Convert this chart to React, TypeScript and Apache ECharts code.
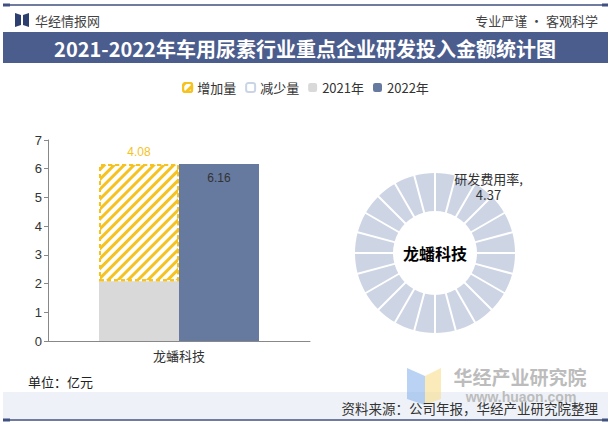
import React, { useEffect, useRef } from "react";
import * as echarts from "echarts";

const categories = ["龙蟠科技"];
const values2021 = [2.08];
const increaseValues = [4.08];
const decreaseValues: (number | string)[] = ["-"];
const values2022 = [6.16];
const yMax = 7;
const yInterval = 1;
const rdRateName = "研发费用率";
const rdRateValues = [4.37];
const legendOrder = ["增加量", "减少量", "2021年", "2022年"];
const ringSegments = 24;

const TITLE = "2021-2022年车用尿素行业重点企业研发投入金额统计图";
const UNIT = "单位：亿元";
const SOURCE = "资料来源：公司年报，华经产业研究院整理";

const FONT = "'Liberation Sans', 'Noto Sans CJK SC', sans-serif";
const CJK = "'Noto Sans CJK SC', sans-serif";
const NAVY = "#3f5081";
const YELLOW = "#f6c21f";

export default function App() {
  const ref = useRef<HTMLDivElement>(null);
  useEffect(() => {
    document.body.style.margin = "0";
    if (!ref.current) return;
    const chart = echarts.init(ref.current, null, { renderer: "svg" });
    const ringCenter = [435, 253];
    const option: any = {
      animation: false,
      backgroundColor: "#ffffff",
      textStyle: { fontFamily: FONT },
      legend: {
        data: legendOrder,
        top: 76,
        left: "center",
        itemWidth: 9,
        itemHeight: 9,
        itemGap: 9,
        textStyle: { fontSize: 13, color: "#333", fontFamily: CJK },
      },
      grid: { left: 48, right: 301, top: 140, bottom: 83 },
      xAxis: {
        type: "category",
        data: categories,
        axisLine: { lineStyle: { color: "#888" } },
        axisTick: { show: false },
        axisLabel: { fontSize: 13, color: "#333", margin: 8, fontFamily: CJK },
      },
      yAxis: {
        type: "value",
        min: 0,
        max: yMax,
        interval: yInterval,
        axisLine: { show: true, lineStyle: { color: "#888" } },
        axisTick: { show: true, length: 4, lineStyle: { color: "#888" } },
        splitLine: { show: false },
        axisLabel: { fontSize: 13, color: "#333", margin: 6 },
      },
      series: [
        {
          name: "2021年",
          type: "bar",
          stack: "a",
          barWidth: 80,
          barGap: "0%",
          data: values2021,
          itemStyle: { color: "#d9d9d9" },
        },
        {
          name: "增加量",
          type: "bar",
          stack: "a",
          barWidth: 80,
          barGap: "0%",
          data: increaseValues,
          itemStyle: {
            color: "#ffffff",
            borderColor: YELLOW,
            borderWidth: 2,
            borderType: [4, 3],
            decal: {
              symbol: "rect",
              symbolSize: 1,
              color: YELLOW,
              dashArrayX: [1, 0],
              dashArrayY: [3, 3.5],
              rotation: -Math.PI / 4,
            },
          },
          label: {
            show: true,
            position: "top",
            distance: 6,
            color: YELLOW,
            fontSize: 12,
          },
        },
        {
          name: "减少量",
          type: "bar",
          stack: "a",
          barWidth: 80,
          barGap: "0%",
          data: decreaseValues,
          itemStyle: { color: "#ffffff", borderColor: "#c9d4e4", borderWidth: 2 },
        },
        {
          name: "2022年",
          type: "bar",
          stack: "b",
          barWidth: 80,
          barGap: "0%",
          data: values2022,
          itemStyle: { color: "#66799f" },
          label: {
            show: true,
            position: "insideTop",
            distance: 8,
            color: "#333",
            fontSize: 12,
          },
        },
        {
          name: "ring",
          type: "pie",
          center: ringCenter,
          radius: [42, 80],
          silent: true,
          startAngle: 90,
          z: 2,
          data: categories.map((c, i) => ({ name: c, value: rdRateValues[i] })),
          itemStyle: { color: "#cdd4e4" },
          label: {
            show: true,
            position: "center",
            formatter: "{b}",
            fontSize: 16,
            fontWeight: "bold",
            color: "#000",
            fontFamily: CJK,
          },
          labelLine: { show: false },
          emphasis: { disabled: true },
        },
        {
          name: "dividers",
          type: "gauge",
          center: ringCenter,
          radius: 81,
          startAngle: 90,
          endAngle: -270,
          splitNumber: ringSegments,
          z: 10,
          min: 0,
          max: ringSegments,
          axisLine: { show: false, lineStyle: { width: 0 } },
          splitLine: { show: true, length: 40, distance: 0, lineStyle: { color: "#ffffff", width: 2 } },
          axisTick: { show: false },
          axisLabel: { show: false },
          pointer: { show: false },
          anchor: { show: false },
          progress: { show: false },
          title: { show: false },
          detail: { show: false },
          data: [{ value: 0, name: "" }],
        },
        {
          name: rdRateName,
          type: "pie",
          center: ringCenter,
          radius: [74, 90],
          silent: true,
          startAngle: 231,
          z: 12,
          data: rdRateValues.map((v) => ({ name: rdRateName, value: v })),
          itemStyle: { color: "rgba(0,0,0,0)" },
          label: {
            show: true,
            position: "inside",
            rotate: 0,
            formatter: "{b},\n{c}",
            fontSize: 13,
            lineHeight: 16,
            color: "#333",
            fontFamily: CJK,
          },
          labelLine: { show: false },
          emphasis: { disabled: true },
        },
      ],
      graphic: [
        { type: "line", shape: { x1: 4, y1: 5, x2: 607, y2: 5 }, style: { stroke: NAVY, lineWidth: 1.5 } },
        { type: "rect", shape: { x: 3, y: 3.5, width: 7, height: 3 }, style: { fill: NAVY } },
        { type: "rect", shape: { x: 602, y: 3.5, width: 6, height: 3 }, style: { fill: NAVY } },
        { type: "polygon", shape: { points: [[15, 13], [21, 15], [21, 25], [15, 27]] }, style: { fill: "#2c3f6e" } },
        { type: "polygon", shape: { points: [[23, 15], [29, 13], [29, 27], [23, 25]] }, style: { fill: "#2c3f6e" } },
        {
          type: "text",
          x: 35,
          y: 20,
          style: { text: "华经情报网", fontSize: 13, fill: "#444", fontFamily: CJK, textVerticalAlign: "middle" },
        },
        {
          type: "text",
          x: 598,
          y: 20,
          style: { text: "专业严谨 • 客观科学", fontSize: 13, fill: "#444", fontFamily: CJK, textAlign: "right", textVerticalAlign: "middle" },
        },
        { type: "rect", shape: { x: 3, y: 32, width: 605, height: 31 }, style: { fill: "#4b5d8d" } },
        {
          type: "text",
          x: 305,
          y: 48,
          style: { text: TITLE, fontSize: 20, fontWeight: "bold", fill: "#ffffff", fontFamily: CJK, textAlign: "center", textVerticalAlign: "middle" },
        },
        {
          type: "text",
          x: 28,
          y: 381,
          style: { text: UNIT, fontSize: 13, fill: "#222", fontFamily: CJK, textVerticalAlign: "middle" },
        },
        { type: "rect", shape: { x: 3, y: 392, width: 605, height: 27 }, style: { fill: "#eef2f8" } },
        { type: "polygon", shape: { points: [[407, 368], [425, 376], [425, 405], [407, 399]] }, style: { fill: "rgba(140,180,235,0.6)" } },
        { type: "polygon", shape: { points: [[425, 376], [441, 368], [441, 399], [425, 405]] }, style: { fill: "rgba(248,222,140,0.6)" } },
        {
          type: "text",
          x: 520,
          y: 376,
          style: { text: "华经产业研究院", fontSize: 19, fontWeight: "bold", fill: "#bcbcbc", fontFamily: CJK, textAlign: "center", textVerticalAlign: "middle" },
        },
        {
          type: "text",
          x: 521,
          y: 397,
          style: { text: "www.huaon.com", fontSize: 14, fontWeight: "bold", fill: "#bcbcbc", fontFamily: FONT, textAlign: "center", textVerticalAlign: "middle" },
        },
        {
          type: "text",
          x: 598,
          y: 408,
          style: { text: SOURCE, fontSize: 13.5, fill: "#333", fontFamily: CJK, textAlign: "right", textVerticalAlign: "middle" },
        },
        { type: "line", shape: { x1: 4, y1: 420, x2: 607, y2: 420 }, style: { stroke: NAVY, lineWidth: 1.5 } },
        { type: "rect", shape: { x: 3, y: 418.5, width: 7, height: 3 }, style: { fill: NAVY } },
        { type: "rect", shape: { x: 602, y: 418.5, width: 6, height: 3 }, style: { fill: NAVY } },
      ],
    };
    chart.setOption(option);
    return () => chart.dispose();
  }, []);
  return <div ref={ref} style={{ width: 611, height: 424 }} />;
}
